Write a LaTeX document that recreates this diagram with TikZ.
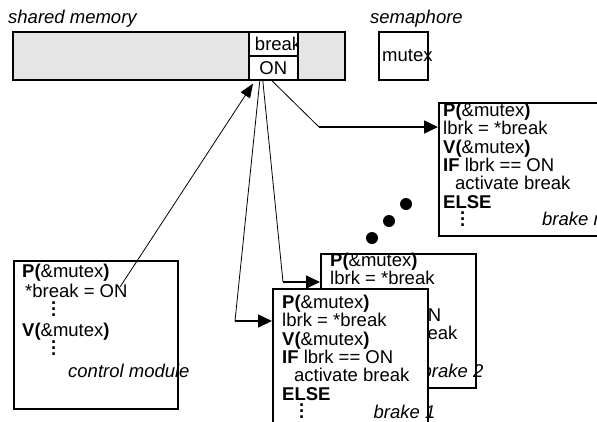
\documentclass[tikz,border=0pt]{standalone}
\usepackage{fontspec}
\setmainfont{Liberation Sans}
\usetikzlibrary{arrows.meta,positioning}

\newcommand{\codefont}{\fontsize{18.5}{18.3}\selectfont}
\newcommand{\vdts}{\vbox{\baselineskip6pt\hbox{\textbf{.}}\hbox{\textbf{.}}\hbox{\textbf{.}}}}
\newcommand{\brakecode}{%
  \textbf{P(}\&mutex\textbf{)}\\
  lbrk = *break\\
  \textbf{V(}\&mutex\textbf{)}\\
  \textbf{IF} lbrk == ON\\
  \hspace*{12pt}activate break\\
  \textbf{ELSE}\\
  \hspace*{17pt}\vdts}

\begin{document}
\begin{tikzpicture}[x=1pt, y=-1pt, font=\codefont,
    box/.style={draw, line width=1.6pt, fill=white, anchor=north west, inner sep=0pt},
    cell/.style={draw, line width=1.6pt, fill=white, anchor=north west, minimum width=49pt, minimum height=24pt, inner sep=1pt},
    code/.style={anchor=north west, align=left, inner sep=0pt},
    tag/.style={font=\codefont\itshape, inner sep=0pt},
    wire/.style={line width=0.8pt},
    feed/.style={line width=1.6pt, -{Triangle[length=14pt,width=13pt]}},
    bullet/.style={fill, circle, minimum size=12pt, inner sep=0pt}
  ]
  \useasboundingbox (0,0) rectangle (597,421);
  \clip (0,0) rectangle (597,421);

  % shared memory and semaphore
  \node[tag, anchor=base west] (mem-tag) at (8,23) {shared memory};
  \node[tag, anchor=base west] (sem-tag) at (370,23) {semaphore};
  \node[box, fill=gray!20, minimum width=332pt, minimum height=48pt] (mem) at (12,31) {};
  \node[cell, path picture={
      \node[anchor=west, inner sep=0pt] (brk-text) at ([xshift=4pt]path picture bounding box.west) {break};}] (brk) at (248,31) {};
  \node[cell] (on) at (248,55) {ON};
  \node[box, minimum width=49pt, minimum height=48pt] (sem) at (378,31) {};
  \node[anchor=west, inner sep=0pt] (mutex) at ([xshift=4pt]sem.west) {mutex};

  % brake n, running off the page
  \node[box, minimum width=168pt, minimum height=133pt] (bn) at (438,102) {};
  \node[code] (bn-code) at ([xshift=5pt,yshift=-1pt]bn.north west) {\brakecode};
  \node[tag, anchor=base west] (bn-tag) at (542,225) {brake n};

  % the brakes in between
  \foreach \x/\y [count=\i] in {406/204, 389/221, 372/238}
    \node[bullet] (dot-\i) at (\x,\y) {};

  % brake 2 lies under brake 1
  \foreach \n/\x/\y/\h/\t in {2/320/253/134/0, 1/272/288/140/7} {
    \node[box, minimum width=155pt, minimum height=\h pt] (b\n) at (\x,\y) {};
    \node[code] (b\n-code) at ([xshift=10pt,yshift=-\t pt]b\n.north west) {\brakecode};
    \node[tag, anchor=base east] (b\n-tag) at ([xshift=7pt,yshift=11pt]b\n.south east) {brake \n};
  }

  % control module
  \node[box, minimum width=164pt, minimum height=148pt] (ctl) at (13,260) {};
  \node[code, font=\fontsize{18.5}{19.5}\selectfont] (ctl-code) at ([xshift=9pt,yshift=-4pt]ctl.north west) {%
    \textbf{P(}\&mutex\textbf{)}\\
    \hspace*{3pt}*break = ON\\
    \hspace*{29pt}\vdts\\
    \textbf{V(}\&mutex\textbf{)}\\
    \hspace*{29pt}\vdts};
  \node[tag, anchor=base west] (ctl-tag) at (68,377) {control module};

  % connectors
  \coordinate (c-n) at (319,127);
  \coordinate (c-2) at (283,282);
  \coordinate (c-1) at (235,321);
  \coordinate (set) at (120,287);
  \draw[wire] ([xshift=-1.5pt]on.south) -- (c-n);
  \draw[feed] (c-n) -- (c-n -| bn.west);
  \draw[wire] ([xshift=-10.5pt]on.south) -- (c-2);
  \draw[feed] (c-2) -- (c-2 -| b2.west);
  \draw[wire] ([xshift=-13.5pt]on.south) -- (c-1);
  \draw[feed] (c-1) -- (c-1 -| b1.west);
  \draw[wire, -{Triangle[length=14pt,width=11pt]}] (set) -- ([xshift=5pt,yshift=-3pt]on.south west);
\end{tikzpicture}
\end{document}
